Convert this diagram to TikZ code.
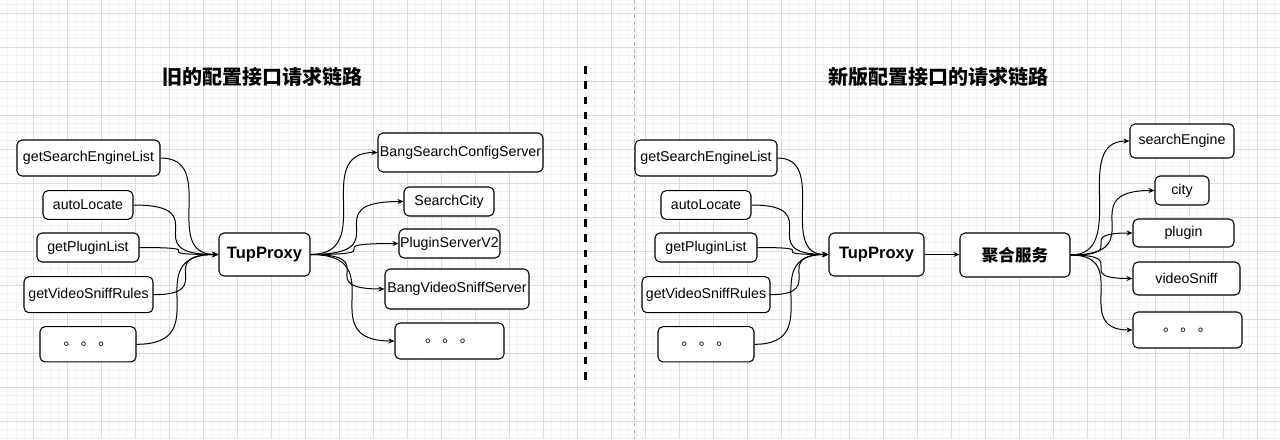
\documentclass[tikz,border=0pt]{standalone}
\usepackage{fontspec}
\setmainfont{Liberation Sans}
\newfontfamily\cjk{Noto Sans CJK SC}
\usetikzlibrary{arrows.meta}
\definecolor{minorgrid}{HTML}{F2F2F2}
\definecolor{majorgrid}{HTML}{DCDCDC}
\definecolor{sepgray}{HTML}{B0B0B0}
\newcommand\bnode[6]{\node[box, minimum width=#4*0.75pt, minimum height=#5*0.75pt] (#1) at (#2,#3) {#6};}
\newcommand\curveconn[2]{\draw[conn] (#1.east) .. controls (#2.west |- #1.east) and (#1.east |- #2.west) .. (#2.west);}
\begin{document}
\begin{tikzpicture}[x=0.75pt,y=-0.75pt,
  box/.style={draw=black, line width=0.8pt, rounded corners=3.75pt, fill=white, inner sep=0pt,
    font=\fontsize{10.65pt}{12pt}\selectfont, align=center},
  boldbox/.style={box, font=\fontsize{12.4pt}{14pt}\selectfont\bfseries},
  conn/.style={line width=0.75pt, -{Stealth[length=4.5pt,width=3.8pt]}},
  titlestyle/.style={inner sep=0pt, font=\fontsize{15pt}{17pt}\selectfont\cjk\bfseries},
  minorline/.style={draw=minorgrid, line width=0.6pt},
  majorline/.style={draw=majorgrid, line width=0.6pt}]
\useasboundingbox (0,0) rectangle (1280,439);
\fill[white] (0,0) rectangle (1280,439);
% grid
\foreach \i in {-4,...,147} {\draw[minorline] ({33.333+8.5*\i},0) -- ({33.333+8.5*\i},439);}
\foreach \i in {-2,...,50} {\draw[minorline] (0,{13.333+8.5*\i}) -- (1280,{13.333+8.5*\i});}
\foreach \i in {-1,...,37} {\draw[majorline] ({33.333+34*\i},0) -- ({33.333+34*\i},439);}
\foreach \i in {-1,...,12} {\draw[majorline] (0,{13.333+34*\i}) -- (1280,{13.333+34*\i});}
% separators
\coordinate (gtop) at (634,0);
\coordinate (gbot) at (634,439);
\draw[sepgray, line width=0.75pt, dash pattern=on 3pt off 2.2pt] (gtop) -- (gbot);
\coordinate (btop) at (585.7,66);
\coordinate (bbot) at (585.7,379.8);
\draw[black, line width=1.9pt, dash pattern=on 5.625pt off 5.861pt] (btop) -- (bbot);
% titles
\node[titlestyle] (t1) at (262,77) {旧的配置接口请求链路};
\node[titlestyle] (t2) at (938,77) {新版配置接口的请求链路};
% left diagram
\bnode{ls1}{88.5}{158}{143}{36}{getSearchEngineList}
\bnode{ls2}{88}{205}{90}{28.6}{autoLocate}
\bnode{ls3}{88}{247.5}{102}{29}{getPluginList}
\bnode{ls4}{88.5}{294.7}{129}{36}{getVideoSniffRules}
\bnode{ls5}{88}{344.3}{96}{35.3}{\cjk 。 。 。}
\node[boldbox, minimum width=91*0.75pt, minimum height=43*0.75pt] (lp) at (264.5,254.5) {TupProxy};
\bnode{lt1}{460.5}{152.5}{165}{39}{BangSearchConfigServer}
\bnode{lt2}{449}{201.5}{90}{29}{SearchCity}
\bnode{lt3}{449.5}{243.5}{101}{29}{PluginServerV2}
\bnode{lt4}{457}{289}{144}{40}{BangVideoSniffServer}
\bnode{lt5}{449.5}{341}{109}{36}{\cjk 。 。 。}
\curveconn{ls1}{lp}
\curveconn{ls2}{lp}
\curveconn{ls3}{lp}
\curveconn{ls4}{lp}
\curveconn{ls5}{lp}
\curveconn{lp}{lt1}
\curveconn{lp}{lt2}
\curveconn{lp}{lt3}
\curveconn{lp}{lt4}
\curveconn{lp}{lt5}
% right diagram
\bnode{rs1}{706}{158}{142}{36}{getSearchEngineList}
\bnode{rs2}{706}{205}{90}{28.6}{autoLocate}
\bnode{rs3}{706}{247.5}{102}{29}{getPluginList}
\bnode{rs4}{706}{294.7}{128}{36}{getVideoSniffRules}
\bnode{rs5}{706}{344.3}{96}{35.3}{\cjk 。 。 。}
\node[boldbox, minimum width=95*0.75pt, minimum height=43*0.75pt] (rp) at (876.5,254.5) {TupProxy};
\node[boldbox, minimum width=110*0.75pt, minimum height=44*0.75pt, font=\fontsize{12.4pt}{14pt}\selectfont\cjk\bfseries] (ra) at (1015,255) {聚合服务};
\bnode{rt1}{1182}{141}{104}{34}{searchEngine}
\bnode{rt2}{1182}{190.5}{54}{29}{city}
\bnode{rt3}{1183.5}{233}{101}{28}{plugin}
\bnode{rt4}{1186.5}{278.5}{107}{33}{videoSniff}
\bnode{rt5}{1187.5}{330}{109}{36}{\cjk 。 。 。}
\curveconn{rs1}{rp}
\curveconn{rs2}{rp}
\curveconn{rs3}{rp}
\curveconn{rs4}{rp}
\curveconn{rs5}{rp}
\draw[conn] (rp.east) -- (ra.west |- rp.east);
\curveconn{ra}{rt1}
\curveconn{ra}{rt2}
\curveconn{ra}{rt3}
\curveconn{ra}{rt4}
\curveconn{ra}{rt5}
\end{tikzpicture}
\end{document}
